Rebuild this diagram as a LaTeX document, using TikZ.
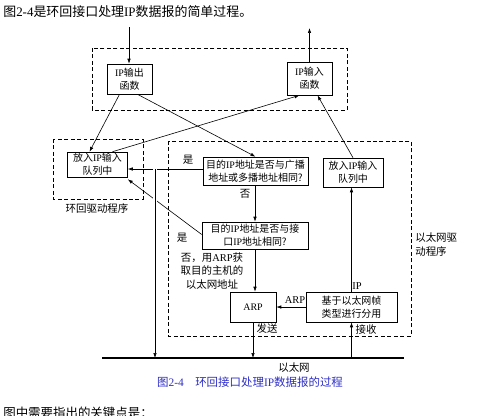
\documentclass[tikz,border=0pt]{standalone}
\usepackage{fontspec}
\setmainfont{Liberation Serif}
\newfontfamily\cjk{Noto Sans CJK SC}
\usetikzlibrary{arrows.meta,calc,positioning}
\definecolor{CapBlue}{RGB}{45,45,200}
\newcommand{\en}[1]{{\rmfamily #1}}

\begin{document}
\begin{tikzpicture}[x=1bp,y=-1bp,>={Latex[length=5pt,width=3.5pt]},line width=0.6pt,
    box/.style={draw,align=center,font=\cjk\fontsize{10}{13}\selectfont,inner sep=0pt},
    grp/.style={draw,dash pattern=on 4pt off 2.5pt},
    lab/.style={font=\cjk\fontsize{10.5}{14}\selectfont,inner sep=0pt}]
  \useasboundingbox (0,0) rectangle (491,415);
  \node[lab,anchor=west,font=\cjk\fontsize{13}{15}\selectfont] (title) at (3,12) {图\en{2-4}是环回接口处理\en{IP}数据报的简单过程。};
  % dashed groups
  \draw[grp] (92,48) rectangle (347,110);
  \draw[grp] (53,139) rectangle (143,199);
  \draw[grp] (168,141) rectangle (411,336);
  % boxes
  \node[box,minimum width=45bp,minimum height=30bp] (ipout) at (129.5,79) {\en{IP}输出\\函数};
  \node[box,minimum width=45bp,minimum height=33bp] (ipin) at (309.5,78.5) {\en{IP}输入\\函数};
  \node[box,minimum width=60bp,minimum height=25bp] (lq) at (97.5,164.5) {放入\en{IP}输入\\队列中};
  \node[box,minimum width=60bp,minimum height=29bp] (rq) at (353,172.5) {放入\en{IP}输入\\队列中};
  \node[box,minimum width=105bp,minimum height=28bp] (bcast) at (255.5,171) {目的\en{IP}地址是否与广播\\地址或多播地址相同?};
  \node[box,minimum width=106bp,minimum height=27bp] (ifaddr) at (255,235.5) {目的\en{IP}地址是否与接\\口\en{IP}地址相同?};
  \node[box,minimum width=46bp,minimum height=30bp] (arp) at (253,307) {\en{ARP}};
  \node[box,minimum width=91bp,minimum height=30bp] (demux) at (351.5,307) {基于以太网帧\\类型进行分用};
  % ethernet
  \coordinate (e1) at (102,358);
  \coordinate (e2) at (404,358);
  \draw[line width=2bp] (e1) -- (e2);
  \coordinate (src) at (129,27);
  \coordinate (dst) at (310,28);
  \coordinate (jn) at (155,169);
  % connectors
  \draw[->] (src) -- (src |- ipout.north);
  \draw[->] (ipin.north) -- (ipin.north |- dst);
  \draw[->] ([xshift=-10bp]ipout.south) -- ([xshift=-8bp]lq.north);
  \draw[->] ([xshift=8bp]ipout.south) -- (bcast.north);
  \draw[->] ([xshift=15bp]lq.north) -- ([xshift=-10bp]ipin.south);
  \draw[->] (rq.north) -- ([xshift=8bp]ipin.south);
  \draw[->] (bcast.west |- jn) -- (lq.east |- jn);
  \draw[->] ([yshift=1bp]ifaddr.west) -- ([yshift=-2bp]lq.south east);
  \draw[preaction={draw,white,line width=4bp},->] (jn) -- (jn |- e1);
  \draw[->] (bcast.south -| ifaddr.north) -- (ifaddr.north);
  \draw[->] (ifaddr.south) -- (ifaddr.south |- arp.north);
  \draw[->] (demux.west) -- (arp.east);
  \draw[->] (demux.north) -- (demux.north |- rq.south);
  \draw[->] (arp.south) -- (arp.south |- e1);
  \draw[->] (demux.south |- e1) -- (demux.south);
  % labels
  \node[lab] (yes1) at (188,160) {是};
  \node[lab] (no1) at (245,194) {否};
  \node[lab] (yes2) at (182,238) {是};
  \node[lab,align=center] (no2) at (212,271) {否，用\en{ARP}获\\取目的主机的\\以太网地址};
  \node[lab] (arplab) at (295,300) {\en{ARP}};
  \node[lab] (iplab) at (357,286) {\en{IP}};
  \node[lab] (send) at (267,329) {发送};
  \node[lab] (recv) at (366,330) {接收};
  \node[lab] (ethlab) at (294,368) {以太网};
  \node[lab] (lolab) at (97,209) {环回驱动程序};
  \node[lab,anchor=west,align=left] (ethdrv) at (415,245) {以太网驱\\动程序};
  \node[lab,text=CapBlue,font=\cjk\fontsize{11.5}{13}\selectfont] (cap) at (250,382) {图\en{2-4}\quad 环回接口处理\en{IP}数据报的过程};
  \node[lab,anchor=west,font=\cjk\fontsize{12.5}{14}\selectfont] (next) at (3,413) {图中需要指出的关键点是：};
\end{tikzpicture}
\end{document}
